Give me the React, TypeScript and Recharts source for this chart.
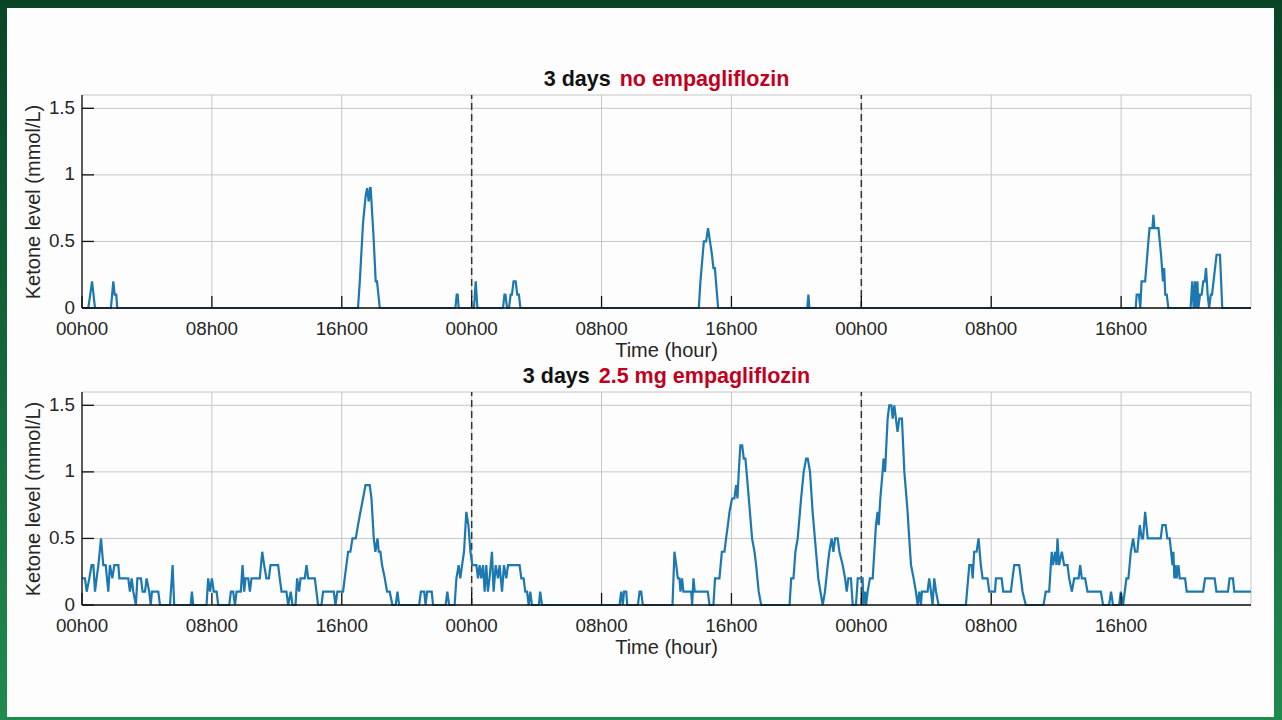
import React from 'react';
import { LineChart, Line, XAxis, YAxis, CartesianGrid, ReferenceLine } from 'recharts';

// x axis: hours since start of the 3-day recording
const hourTicks = [0, 8, 16, 24, 32, 40, 48, 56, 64];
const hourLabels = ['00h00', '08h00', '16h00'];
const ketoneTicks = [0, 0.5, 1, 1.5];
const dayBoundaries = [24, 48];

// [hour, ketone mmol/L]
const noEmpaPoints: [number, number][] = [
    [0, 0], [0.39, 0], [0.62, 0.2], [0.8, 0], [1.78, 0], [1.93, 0.2], [2.01, 0.1], [2.11, 0.1], [2.17, 0],
    [17.0, 0], [17.11, 0.2], [17.31, 0.64], [17.47, 0.84], [17.56, 0.9], [17.66, 0.8], [17.74, 0.9], [17.78, 0.9],
    [17.95, 0.55], [18.09, 0.2], [18.17, 0.2], [18.34, 0],
    [23.0, 0], [23.08, 0.1], [23.14, 0.1], [23.2, 0],
    [24.14, 0], [24.25, 0.2], [24.35, 0],
    [25.93, 0], [26.02, 0.1], [26.08, 0.1], [26.18, 0], [26.3, 0], [26.4, 0.1], [26.48, 0.1], [26.58, 0.2],
    [26.71, 0.2], [26.81, 0.1], [26.91, 0.1], [27.0, 0],
    [37.99, 0], [38.09, 0.2], [38.3, 0.5], [38.44, 0.5], [38.56, 0.6], [38.68, 0.5], [38.8, 0.4], [38.89, 0.3],
    [38.98, 0.3], [39.18, 0],
    [44.67, 0], [44.74, 0.1], [44.8, 0],
    [64.9, 0], [64.96, 0.1], [65.1, 0.1], [65.18, 0], [65.26, 0.2], [65.48, 0.2], [65.68, 0.5], [65.75, 0.6],
    [65.93, 0.6], [65.99, 0.7], [66.05, 0.6], [66.3, 0.6], [66.38, 0.5], [66.46, 0.4], [66.58, 0.2], [66.65, 0.3],
    [66.72, 0.1], [66.81, 0.1], [66.91, 0],
    [68.28, 0], [68.38, 0.2], [68.47, 0], [68.55, 0.2], [68.62, 0], [68.7, 0.2], [68.76, 0], [68.86, 0.1],
    [68.96, 0.1], [69.06, 0.2], [69.15, 0.2], [69.23, 0.3], [69.33, 0.1], [69.42, 0], [69.52, 0.1], [69.6, 0.1],
    [69.88, 0.4], [70.09, 0.4], [70.23, 0],
    [72, 0],
];

const empaPoints: [number, number][] = [
    [0, 0.2], [0.18, 0.2], [0.29, 0.1], [0.45, 0.2], [0.59, 0.3], [0.7, 0.3], [0.8, 0.1], [0.9, 0.2], [1.01, 0.3],
    [1.17, 0.5], [1.31, 0.3], [1.46, 0.3], [1.62, 0.1], [1.72, 0.3], [1.87, 0.2], [1.99, 0.3], [2.24, 0.3],
    [2.3, 0.2], [2.85, 0.2], [2.95, 0.1], [3.06, 0.2], [3.16, 0.1], [3.32, 0], [3.41, 0.2], [3.63, 0.2],
    [3.73, 0.1], [3.88, 0.1], [3.98, 0.2], [4.14, 0.1], [4.23, 0], [4.31, 0.1], [4.7, 0.1], [4.8, 0],
    [5.42, 0], [5.58, 0.3], [5.68, 0], [6.69, 0], [6.77, 0.1], [6.85, 0], [7.67, 0], [7.77, 0.2], [7.88, 0.1],
    [8.0, 0.2], [8.12, 0.1], [8.29, 0.1], [8.39, 0], [9.07, 0], [9.17, 0.1], [9.31, 0.1], [9.42, 0], [9.52, 0.1],
    [9.78, 0.1], [9.89, 0.3], [9.99, 0.1], [10.07, 0.2], [10.24, 0.2], [10.34, 0.1], [10.44, 0.2], [10.95, 0.2],
    [11.1, 0.4], [11.22, 0.3], [11.36, 0.2], [11.51, 0.2], [11.61, 0.3], [12.08, 0.3], [12.18, 0.2], [12.29, 0.1],
    [12.59, 0.1], [12.7, 0], [12.86, 0.1], [12.96, 0], [13.15, 0], [13.25, 0.2], [13.37, 0.1], [13.46, 0.2],
    [13.72, 0.2], [13.83, 0.3], [13.93, 0.2], [14.34, 0.2], [14.44, 0.1], [14.54, 0], [14.75, 0], [14.85, 0.1],
    [15.51, 0.1], [15.61, 0], [15.73, 0.1], [16.08, 0.1],
    [16.18, 0.2], [16.39, 0.4], [16.53, 0.4], [16.66, 0.5], [16.86, 0.5], [17.0, 0.6], [17.15, 0.7], [17.31, 0.8],
    [17.46, 0.9], [17.72, 0.9], [17.83, 0.8], [17.97, 0.5], [18.07, 0.4], [18.2, 0.5], [18.28, 0.4], [18.38, 0.4],
    [18.48, 0.3], [18.65, 0.2], [18.79, 0.1], [18.95, 0.1], [19.12, 0], [19.32, 0], [19.43, 0.1], [19.53, 0],
    [20.77, 0], [20.87, 0.1], [21.08, 0.1], [21.16, 0], [21.26, 0.1], [21.54, 0.1], [21.62, 0], [22.4, 0],
    [22.5, 0.1], [22.61, 0], [22.95, 0], [23.06, 0.2], [23.2, 0.3], [23.3, 0.2], [23.41, 0.3], [23.53, 0.4],
    [23.67, 0.7], [23.8, 0.6], [23.92, 0.4], [24.04, 0.3], [24.29, 0.3], [24.39, 0.2], [24.49, 0.3], [24.59, 0.2],
    [24.7, 0.3], [24.8, 0.1], [24.9, 0.3], [25.0, 0.1], [25.1, 0.2], [25.25, 0.4], [25.35, 0.1], [25.48, 0.3],
    [25.62, 0.2], [25.72, 0.3], [25.87, 0.1], [25.99, 0.3], [26.13, 0.2], [26.24, 0.3], [26.95, 0.3], [27.06, 0.2],
    [27.2, 0.2], [27.3, 0.1], [27.41, 0.1], [27.51, 0], [27.61, 0.1], [27.71, 0], [28.14, 0], [28.22, 0.1],
    [28.33, 0],
    [33.11, 0], [33.21, 0.1], [33.31, 0], [33.38, 0.1], [33.52, 0.1], [33.58, 0], [34.24, 0], [34.34, 0.1],
    [34.44, 0.1], [34.54, 0], [36.37, 0], [36.49, 0.4], [36.6, 0.3], [36.7, 0.2], [36.8, 0.2], [36.86, 0.1],
    [36.96, 0.2], [37.04, 0.1], [37.52, 0.1], [37.58, 0], [37.66, 0.2], [37.74, 0.1], [38.54, 0.1], [38.65, 0],
    [38.89, 0], [38.99, 0.2], [39.26, 0.2], [39.41, 0.4], [39.57, 0.4], [39.67, 0.5], [39.78, 0.6], [39.88, 0.7],
    [40.04, 0.8], [40.18, 0.8], [40.29, 0.9], [40.37, 0.8], [40.45, 1.0], [40.55, 1.2], [40.66, 1.2], [40.76, 1.1],
    [40.86, 1.1], [41.07, 0.8], [41.27, 0.5], [41.42, 0.4], [41.52, 0.3], [41.68, 0.1], [41.83, 0],
    [43.58, 0], [43.68, 0.2], [43.82, 0.2], [43.94, 0.4], [44.08, 0.5], [44.29, 0.8], [44.45, 1.0], [44.6, 1.1],
    [44.7, 1.1], [44.84, 1.0], [45.0, 0.7], [45.21, 0.4], [45.35, 0.2], [45.48, 0.1], [45.62, 0], [45.76, 0.1],
    [45.93, 0.3], [46.03, 0.4], [46.17, 0.5], [46.28, 0.4], [46.38, 0.5], [46.54, 0.5], [46.65, 0.4], [46.85, 0.3],
    [47.0, 0.2], [47.1, 0.1], [47.2, 0.2], [47.36, 0.2], [47.47, 0], [47.67, 0], [47.78, 0.2], [48.08, 0.2],
    [48.12, 0], [48.23, 0.1], [48.29, 0], [48.39, 0.1], [48.53, 0.2], [48.7, 0.2], [48.8, 0.4], [48.9, 0.6],
    [49.0, 0.7], [49.07, 0.6], [49.17, 0.8], [49.31, 1.0], [49.37, 1.1], [49.46, 1.0], [49.62, 1.4], [49.72, 1.5],
    [49.85, 1.5], [49.93, 1.4], [50.03, 1.5], [50.13, 1.4], [50.23, 1.3], [50.34, 1.4], [50.5, 1.4], [50.65, 1.0],
    [50.85, 0.7], [50.95, 0.5], [51.06, 0.3], [51.22, 0.2], [51.36, 0.1], [51.47, 0], [51.57, 0.1], [51.67, 0],
    [51.73, 0.1], [52.08, 0.1], [52.18, 0.2], [52.29, 0.1], [52.39, 0], [52.49, 0.2], [52.6, 0.1], [52.76, 0],
    [54.44, 0], [54.65, 0.3], [54.79, 0.3], [54.86, 0.2], [54.95, 0.4], [55.1, 0.4], [55.22, 0.5], [55.36, 0.3],
    [55.47, 0.2], [55.77, 0.2], [55.88, 0.1], [56.23, 0.1], [56.29, 0.2], [56.64, 0.2], [56.74, 0.1], [57.21, 0.1],
    [57.31, 0.2], [57.42, 0.3], [57.72, 0.3], [57.83, 0.2], [57.93, 0.1], [58.13, 0], [59.22, 0], [59.36, 0.1],
    [59.57, 0.1], [59.67, 0.3], [59.73, 0.4], [59.81, 0.3], [59.94, 0.4], [60.02, 0.3], [60.08, 0.5], [60.18, 0.3],
    [60.35, 0.4], [60.49, 0.3], [60.7, 0.3], [60.8, 0.2], [60.97, 0.1], [61.11, 0.2], [61.38, 0.2], [61.48, 0.3],
    [61.58, 0.2], [61.78, 0.2], [61.93, 0.1], [62.75, 0.1], [62.89, 0], [63.26, 0], [63.38, 0.1], [63.5, 0],
    [63.88, 0], [63.98, 0.1], [64.12, 0], [64.33, 0.2], [64.45, 0.2], [64.6, 0.4], [64.74, 0.5], [64.86, 0.4],
    [65.0, 0.4], [65.15, 0.6], [65.27, 0.5], [65.35, 0.5], [65.48, 0.7], [65.56, 0.6], [65.64, 0.5], [66.44, 0.5],
    [66.54, 0.6], [66.74, 0.6], [66.85, 0.5], [66.99, 0.5], [67.08, 0.4], [67.16, 0.3], [67.22, 0.4], [67.28, 0.2],
    [67.36, 0.3], [67.42, 0.2], [67.53, 0.3], [67.61, 0.2], [67.94, 0.2], [68.04, 0.1], [69.05, 0.1], [69.17, 0.2],
    [69.76, 0.2], [69.87, 0.1], [70.58, 0.1], [70.68, 0.2], [70.89, 0.2], [70.97, 0.1], [72, 0.1],
];

const FONT = '"Liberation Sans", Arial, Helvetica, sans-serif';
const LINE_COLOR = '#1b78b0';
const RED = '#c0001e';

// MATLAB-style ticks: short mark pointing into the plot, label outside
const HourTick = (props: any) => {
    const { x, y, payload } = props;
    const label = hourLabels[(payload.value % 24) / 8];
    return (
        <g>
            <line x1={x} x2={x} y1={y} y2={y - 12} stroke="#111" strokeWidth={1.3} />
            <text x={x} y={y + 26.5} textAnchor="middle" fontSize={18.8} fill="#262626" fontFamily={FONT}>
                {label}
            </text>
        </g>
    );
};

const KetoneTick = (props: any) => {
    const { x, y, payload } = props;
    return (
        <g>
            <line x1={x} x2={x + 12} y1={y} y2={y} stroke="#111" strokeWidth={1.3} />
            <text x={x - 7} y={y + 5.5} textAnchor="end" fontSize={18.8} fill="#262626" fontFamily={FONT}>
                {String(payload.value)}
            </text>
        </g>
    );
};

interface PanelProps {
    points: [number, number][];
    treatment: string;
    top: number;
}

const KetonePanel: React.FC<PanelProps> = ({ points, treatment, top }) => {
    const chartData = points.map(([t, v]) => ({ t, v }));
    return (
        <div style={{ position: 'absolute', left: 0, top, width: 1282, height: 340 }}>
            {/* title: black prefix + red treatment */}
            <div style={{
                position: 'absolute', left: 82, top: 66, width: 1169, textAlign: 'center',
                fontFamily: FONT, fontSize: 21.5, fontWeight: 700, lineHeight: '26px', color: '#111'
            }}>
                3 days <span style={{ color: RED, marginLeft: 3 }}>{treatment}</span>
            </div>
            <div style={{
                position: 'absolute', left: -97, top: 190, width: 260, height: 24, lineHeight: '24px',
                textAlign: 'center', transform: 'rotate(-90deg)', fontFamily: FONT, fontSize: 20, color: '#262626'
            }}>
                Ketone level (mmol/L)
            </div>
            <div style={{
                position: 'absolute', left: 82, top: 338, width: 1169, textAlign: 'center',
                fontFamily: FONT, fontSize: 20, lineHeight: '24px', color: '#262626'
            }}>
                Time (hour)
            </div>
            <div style={{ position: 'absolute', left: 0, top: 0 }}>
                <LineChart width={1282} height={340} data={chartData}
                    margin={{ top: 95, right: 31, bottom: 0, left: 32 }}>
                    <CartesianGrid stroke="#c6c6c6" strokeWidth={1} />
                    <XAxis
                        type="number"
                        dataKey="t"
                        domain={[0, 72]}
                        ticks={hourTicks}
                        interval={0}
                        height={32}
                        tickSize={0}
                        tickMargin={0}
                        tickLine={false}
                        axisLine={{ stroke: '#111', strokeWidth: 1.3 }}
                        tick={<HourTick />}
                    />
                    <YAxis
                        type="number"
                        domain={[0, 1.6]}
                        ticks={ketoneTicks}
                        interval={0}
                        width={50}
                        tickSize={0}
                        tickMargin={0}
                        tickLine={false}
                        axisLine={{ stroke: '#111', strokeWidth: 1.3 }}
                        tick={<KetoneTick />}
                    />
                    {dayBoundaries.map((h) => (
                        <ReferenceLine key={h} x={h} stroke="#333" strokeWidth={1.5} strokeDasharray="7 4" />
                    ))}
                    <Line
                        type="linear"
                        dataKey="v"
                        stroke={LINE_COLOR}
                        strokeWidth={2.2}
                        dot={false}
                        activeDot={false}
                        isAnimationActive={false}
                    />
                </LineChart>
            </div>
        </div>
    );
}

export default function App() {
    return (
        <div style={{
            position: 'absolute', left: 0, top: 0, width: 1282, height: 720, overflow: 'hidden',
            background: 'linear-gradient(180deg, #0a4426 0%, #14673a 50%, #1f8b4e 100%)'
        }}>
            <div style={{ position: 'absolute', left: 7, top: 8, width: 1267, height: 709, background: '#fdfdfd' }} />
            <KetonePanel points={noEmpaPoints} treatment="no empagliflozin" top={0} />
            <KetonePanel points={empaPoints} treatment="2.5 mg empagliflozin" top={297} />
        </div>
    );
}
